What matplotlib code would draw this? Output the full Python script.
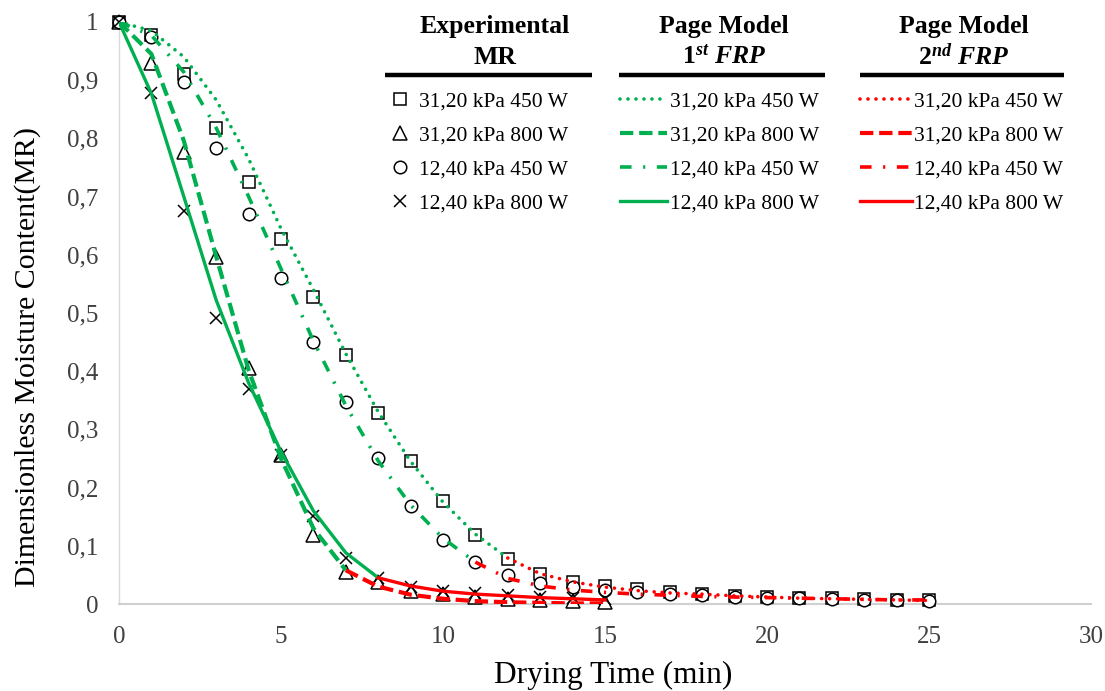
import numpy as np
import matplotlib
matplotlib.use('Agg')
from matplotlib import pyplot as plt
from matplotlib.lines import Line2D
from matplotlib import rcParams

rcParams['font.family'] = 'serif'
rcParams['font.serif'] = ['Liberation Serif', 'DejaVu Serif']
rcParams['mathtext.fontset'] = 'custom'
rcParams['mathtext.it'] = 'Liberation Serif:bold:italic'
rcParams['mathtext.rm'] = 'Liberation Serif:bold'

# experimental MR
t_long = list(range(0, 26))
t_short = list(range(0, 16))
mr_31_450 = [1.0, 0.978, 0.911, 0.818, 0.725, 0.627, 0.527, 0.428, 0.328, 0.246,
             0.177, 0.119, 0.077, 0.052, 0.038, 0.031, 0.026, 0.021, 0.017, 0.014,
             0.012, 0.010, 0.010, 0.009, 0.007, 0.007]
mr_12_450 = [1.0, 0.974, 0.897, 0.783, 0.670, 0.560, 0.450, 0.347, 0.251, 0.168,
             0.110, 0.072, 0.050, 0.036, 0.029, 0.024, 0.020, 0.017, 0.015, 0.012,
             0.010, 0.010, 0.009, 0.007, 0.007, 0.006]
mr_31_800 = [1.0, 0.930, 0.777, 0.597, 0.405, 0.256, 0.119, 0.055, 0.037, 0.023,
             0.017, 0.012, 0.009, 0.007, 0.005, 0.003]
mr_12_800 = [1.0, 0.878, 0.675, 0.491, 0.369, 0.256, 0.151, 0.079, 0.045, 0.029,
             0.022, 0.019, 0.015, 0.012, 0.010, 0.009]

# Page model, 1st falling rate period (green)
t1_31_450 = list(range(0, 13))
p1_31_450 = [1.0, 0.985, 0.940, 0.866, 0.765, 0.645, 0.540, 0.430, 0.330, 0.245,
             0.175, 0.120, 0.079]
t1_31_800 = list(range(0, 8))
p1_31_800 = [1.0, 0.945, 0.796, 0.597, 0.402, 0.250, 0.130, 0.058]
t1_12_450 = list(range(0, 12))
p1_12_450 = [1.0, 0.977, 0.914, 0.818, 0.700, 0.576, 0.452, 0.341, 0.246, 0.170,
             0.113, 0.072]
t1_12_800 = list(range(0, 9))
p1_12_800 = [1.0, 0.877, 0.700, 0.522, 0.380, 0.262, 0.160, 0.088, 0.045]

# Page model, 2nd falling rate period (red)
t2_31_450 = list(range(12, 26))
p2_31_450 = [0.079, 0.052, 0.038, 0.029, 0.023, 0.019, 0.017, 0.014, 0.012, 0.010,
             0.009, 0.008, 0.007, 0.006]
t2_31_800 = list(range(7, 16))
p2_31_800 = [0.058, 0.030, 0.016, 0.009, 0.005, 0.003, 0.002, 0.001, 0.001]
t2_12_450 = list(range(11, 26))
p2_12_450 = [0.072, 0.044, 0.031, 0.024, 0.020, 0.017, 0.015, 0.013, 0.012, 0.011,
             0.010, 0.009, 0.008, 0.007, 0.007]
t2_12_800 = list(range(8, 16))
p2_12_800 = [0.045, 0.031, 0.022, 0.017, 0.014, 0.011, 0.009, 0.007]

labels = ['31,20 kPa 450 W', '31,20 kPa 800 W', '12,40 kPa 450 W', '12,40 kPa 800 W']
xticks = [0, 5, 10, 15, 20, 25, 30]
yticks = [0, 0.1, 0.2, 0.3, 0.4, 0.5, 0.6, 0.7, 0.8, 0.9, 1.0]
ytick_labels = ['0', '0,1', '0,2', '0,3', '0,4', '0,5', '0,6', '0,7', '0,8', '0,9', '1']

green = '#00B050'
red = '#FF0000'
dotted = (0, (0.01, 2.2))
dashed = (0, (3.2, 1.4))
dashdot = (0, (3.2, 3.2, 0.6, 3.2))

fig = plt.figure(figsize=(11.05, 6.91), dpi=100)
ax = fig.add_axes([0.1077, 0.1259, 0.8796, 0.8423])

mk = dict(linestyle='none', markeredgecolor='black', markerfacecolor='white',
          markeredgewidth=1.1, zorder=3, clip_on=False)
h_sq, = ax.plot(t_long, mr_31_450, marker='s', markersize=9, **mk)
h_tr, = ax.plot(t_short, mr_31_800, marker='^', markersize=10, **mk)
h_ci, = ax.plot(t_long, mr_12_450, marker='o', markersize=9, **mk)
h_x, = ax.plot(t_short, mr_12_800, marker='x', markersize=9, **mk)

g1, = ax.plot(t1_31_450, p1_31_450, color=green, lw=2.6, ls=dotted, dash_capstyle='round', zorder=4)
g2, = ax.plot(t1_31_800, p1_31_800, color=green, lw=3.0, ls=dashed, zorder=4)
g3, = ax.plot(t1_12_450, p1_12_450, color=green, lw=2.6, ls=dashdot, zorder=4)
g4, = ax.plot(t1_12_800, p1_12_800, color=green, lw=2.4, ls='-', zorder=4)

r1, = ax.plot(t2_31_450, p2_31_450, color=red, lw=2.6, ls=dotted, dash_capstyle='round', zorder=4)
r2, = ax.plot(t2_31_800, p2_31_800, color=red, lw=3.0, ls=dashed, zorder=4)
r3, = ax.plot(t2_12_450, p2_12_450, color=red, lw=2.6, ls=dashdot, zorder=4)
r4, = ax.plot(t2_12_800, p2_12_800, color=red, lw=2.4, ls='-', zorder=4)

ax.set_xlim(0, 30)
ax.set_ylim(0, 1)
ax.set_xticks(xticks)
ax.set_yticks(yticks)
ax.set_yticklabels(ytick_labels)
ax.tick_params(length=0, labelsize=18, labelcolor='#404040')
ax.tick_params(axis='x', pad=16)
ax.tick_params(axis='y', pad=15)
for s in ['top', 'right']:
    ax.spines[s].set_visible(False)
ax.spines['bottom'].set_color('#D0D0D0')
ax.spines['bottom'].set_linewidth(1.5)
ax.spines['left'].set_color('#D9D9D9')
ax.spines['left'].set_linewidth(1.0)

ax.set_xlabel('Drying Time (min)', fontsize=22.5)
ax.xaxis.label.set_va('baseline')
ax.xaxis.set_label_coords(0.508, -0.1357)
ax.set_ylabel('Dimensionless Moisture Content(MR)', fontsize=21.5)
ax.yaxis.set_label_coords(-0.080, 0.424)

# legend columns
leg_kw = dict(loc='upper left', frameon=False, fontsize=15.5, borderpad=0,
              borderaxespad=0, labelspacing=0.66, bbox_transform=fig.transFigure)
top = 1 - 91 / 691
leg1 = ax.legend([h_sq, h_tr, h_ci, h_x], labels, bbox_to_anchor=(390 / 1105, top),
                 handlelength=0.9, handletextpad=0.45, **leg_kw)
ax.add_artist(leg1)
leg2 = ax.legend([g1, g2, g3, g4], labels, bbox_to_anchor=(620 / 1105, top),
                 handlelength=2.2, handletextpad=0.12, **leg_kw)
ax.add_artist(leg2)
leg3 = ax.legend([r1, r2, r3, r4], labels, bbox_to_anchor=(860 / 1105, top),
                 handlelength=2.4, handletextpad=0.12, **leg_kw)

# column headers
heads = [(495, 'Experimental', 'MR'),
         (724, 'Page Model', r'$\mathit{1^{st}\ FRP}$'),
         (964, 'Page Model', r'$\mathit{2^{nd}\ FRP}$')]
for xc, l1, l2 in heads:
    fig.text(xc / 1105, 1 - 27 / 691, l1, ha='center', va='center', fontsize=18.5, fontweight='bold')
    fig.text(xc / 1105, 1 - 57 / 691, l2, ha='center', va='center', fontsize=18.5, fontweight='bold')
for x0, x1 in [(385, 592), (619, 825), (860, 1064)]:
    fig.add_artist(Line2D([x0 / 1105, x1 / 1105], [1 - 75 / 691, 1 - 75 / 691],
                          transform=fig.transFigure, color='black', lw=3.2, solid_capstyle='butt'))

plt.savefig('out.png', dpi=100)
